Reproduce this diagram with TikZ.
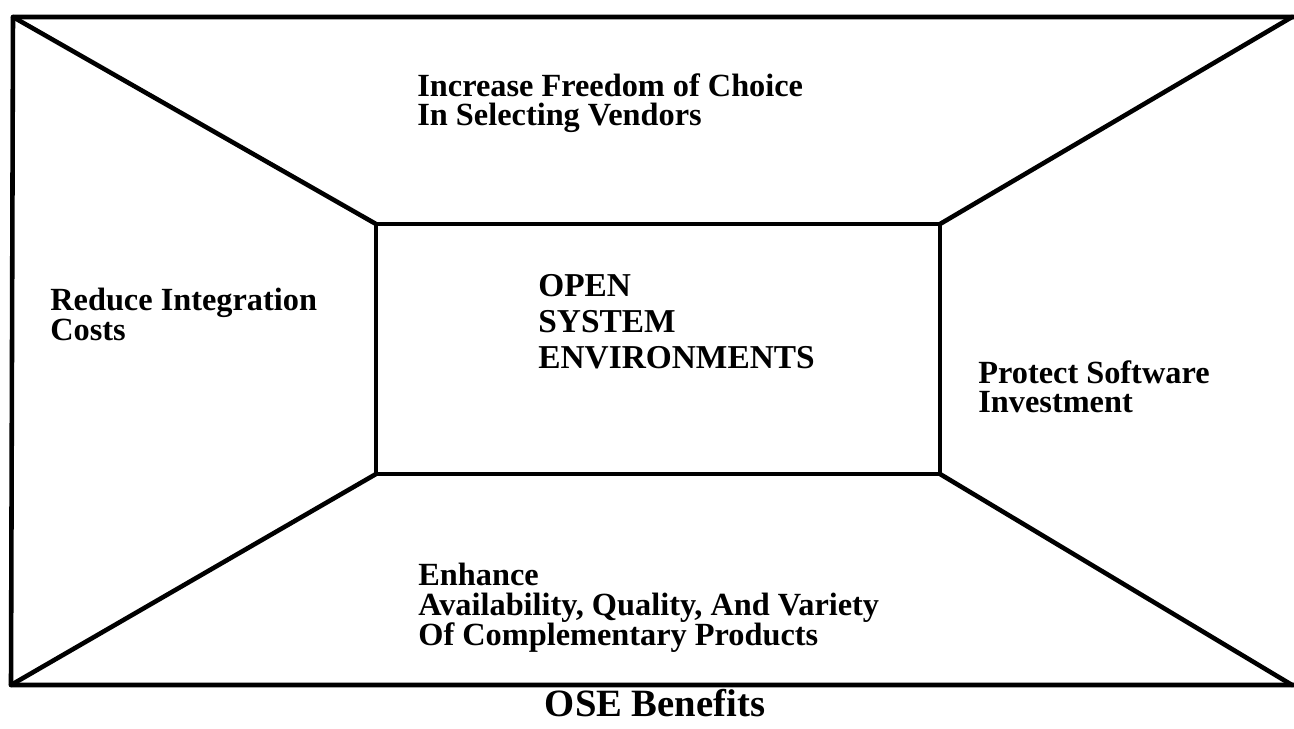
\documentclass[tikz,border=0pt]{standalone}
\usepackage{fontspec}
\setmainfont{Liberation Serif}
\begin{document}
\begin{tikzpicture}[x=0.02cm, y=-0.02cm,
        edge/.style={line width=2.6pt, line cap=round, line join=round},
        lbl/.style={anchor=north west, inner sep=0, align=left,
            font=\fontsize{18.4}{17}\selectfont\bfseries},
        ctr/.style={anchor=north west, inner sep=0, align=left,
            font=\fontsize{19}{20.4}\selectfont\bfseries}]
    \useasboundingbox (0,0) rectangle (1294,728);

    % outer frame
    \coordinate (otl) at (13,17);
    \coordinate (otr) at (1292,17);
    \coordinate (obl) at (11,685);
    \coordinate (obr) at (1292,685);
    % inner box
    \coordinate (itl) at (376,224);
    \coordinate (itr) at (940,224);
    \coordinate (ibl) at (376,474);
    \coordinate (ibr) at (940,474);

    \draw[edge] (1294,17) -- (otl) -- (obl) -- (1294,685);
    \draw[edge] (itl) rectangle (ibr);
    \draw[edge] (otl) -- (itl);
    \draw[edge] (otr) -- (itr);
    \draw[edge] (obl) -- (ibl);
    \draw[edge] (obr) -- (ibr);

    % labels
    \node[lbl] (choice) at (417,73) {Increase Freedom of Choice\\In Selecting Vendors};
    \node[lbl] (costs) at (50,288) {Reduce Integration\\Costs};
    \node[ctr] (ose) at (538,274) {OPEN\\SYSTEM\\ENVIRONMENTS};
    \node[lbl] (invest) at (978,360) {Protect Software\\Investment};
    \node[lbl] (products) at (418,563) {Enhance\\Availability, Quality, And Variety\\Of Complementary Products};

    \node[font=\fontsize{22}{24}\selectfont\bfseries, anchor=base] (caption) at (655,716) {OSE Benefits};
\end{tikzpicture}
\end{document}
